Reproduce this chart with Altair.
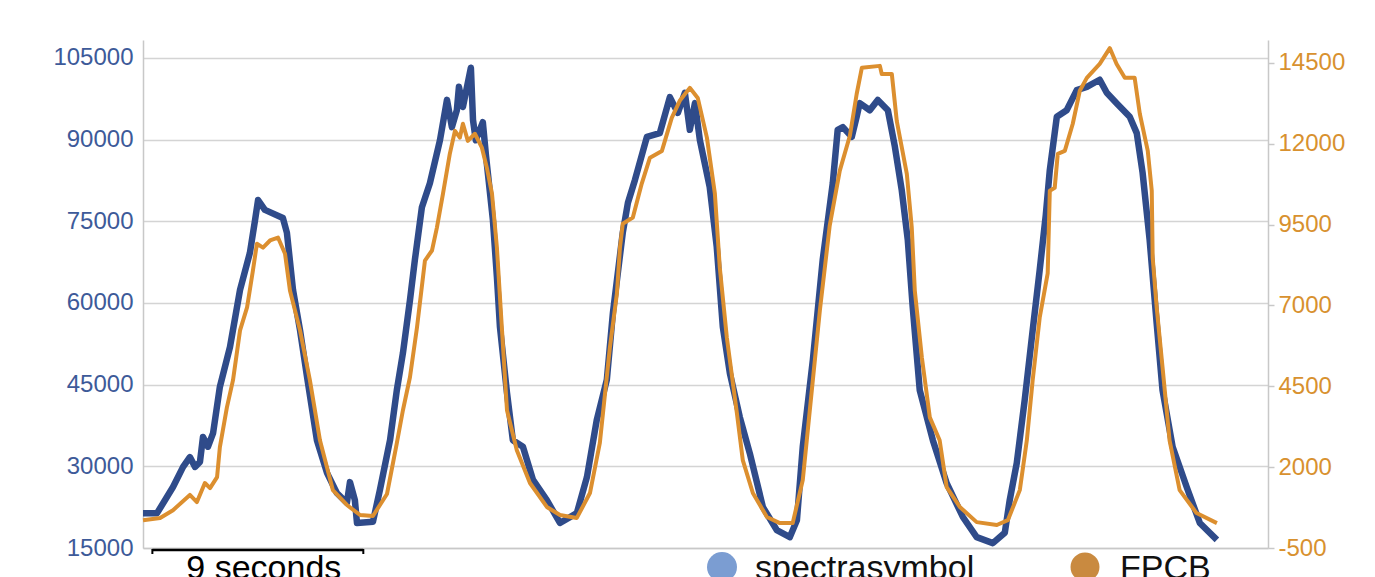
import altair as alt
import pandas as pd

# ---- data ----
series_names = ["spectrasymbol", "FPCB"]

spectra_t = [0.00, 0.60, 1.28, 1.71, 2.00, 2.22, 2.43, 2.56, 2.77, 2.99, 3.28, 3.71, 4.14, 4.56, 4.78, 4.91,
             5.20, 5.97, 6.14, 6.40, 6.70, 7.00, 7.42, 7.85, 8.27, 8.70, 8.83, 9.04, 9.13, 9.81, 10.11, 10.54,
             10.83, 11.09, 11.39, 11.60, 11.90, 12.24, 12.67, 12.97, 13.18, 13.39, 13.48, 13.65, 13.99, 14.08,
             14.20, 14.50, 14.63, 14.93, 15.10, 15.23, 15.53, 15.78, 16.21, 16.64, 17.23, 17.79, 18.51, 18.94,
             19.36, 19.79, 20.05, 20.47, 20.69, 20.99, 21.50, 22.05, 22.48, 22.82, 23.12, 23.33, 23.55, 23.76,
             24.18, 24.48, 24.74, 25.04, 25.46, 25.89, 26.45, 27.04, 27.60, 27.90, 28.15, 28.58, 29.00, 29.43,
             29.64, 29.86, 30.24, 30.45, 30.58, 31.01, 31.35, 31.78, 32.08, 32.37, 32.63, 32.84, 33.14, 33.70,
             34.29, 34.98, 35.57, 36.26, 36.77, 36.98, 37.28, 37.62, 37.96, 38.26, 38.52, 38.69, 38.99, 39.41,
             39.84, 40.27, 40.82, 41.12, 41.54, 42.10, 42.40, 42.65, 42.95, 43.25, 43.50, 43.93, 44.53, 45.09,
             45.82]
spectra_v = [21400, 21400, 26200, 29900, 31700, 29900, 30800, 35400, 33600, 36100, 44600, 51900, 62400, 69200,
             75200, 78900, 77100, 75600, 72900, 62400, 55000, 46400, 34800, 28800, 25100, 23300, 27100, 23800,
             19600, 19800, 25700, 34800, 44000, 50800, 60500, 67900, 77600, 82000, 89900, 97300, 92300, 95400,
             99700, 96000, 103200, 93600, 89900, 93200, 87200, 75200, 64800, 55600, 43500, 34800, 33600, 27500,
             23800, 19600, 21400, 28000, 38500, 45900, 58200, 72900, 78400, 82600, 90500, 91200, 97800, 94900,
             98600, 91800, 96700, 89900, 81300, 70300, 55600, 47100, 39100, 32400, 22500, 18300, 17000, 20100,
             33600, 49500, 67900, 82000, 91800, 92300, 90500, 94200, 96700, 95400, 97300, 95400, 88700, 80800,
             71600, 59300, 44000, 34800, 26900, 20700, 17000, 15900, 17800, 23800, 30600, 42200, 55000, 66100,
             76200, 84400, 94200, 95400, 99100, 99700, 101000, 98600, 96700, 94200, 91200, 83900, 71600, 56300,
             44000, 33600, 26200, 19600, 16500]

fpcb_t = [0.00, 0.73, 1.28, 2.00, 2.30, 2.64, 2.86, 3.16, 3.28, 3.58, 3.84, 4.14, 4.44, 4.69, 4.86, 5.12,
          5.42, 5.76, 6.06, 6.27, 6.70, 7.12, 7.55, 8.10, 8.70, 9.26, 9.81, 10.41, 10.83, 11.09, 11.39, 11.69,
          12.03, 12.33, 12.54, 12.80, 13.09, 13.31, 13.52, 13.65, 13.86, 14.16, 14.46, 14.67, 14.89, 15.10,
          15.31, 15.53, 15.95, 16.51, 17.23, 17.79, 18.51, 19.07, 19.49, 19.92, 20.22, 20.35, 20.47, 20.90,
          21.28, 21.63, 22.14, 22.56, 22.90, 23.33, 23.67, 24.06, 24.40, 24.61, 24.91, 25.34, 25.59, 26.02,
          26.62, 27.17, 27.72, 28.15, 28.45, 28.88, 29.30, 29.73, 30.16, 30.45, 30.67, 31.44, 31.52, 31.95,
          32.16, 32.59, 32.80, 32.93, 33.23, 33.57, 33.99, 34.29, 34.85, 35.57, 36.43, 36.90, 37.41, 37.71,
          37.96, 38.26, 38.60, 38.69, 38.90, 39.03, 39.33, 39.67, 39.97, 40.27, 40.82, 41.25, 41.54, 41.89,
          42.31, 42.53, 42.87, 43.04, 43.08, 43.25, 43.50, 43.80, 44.23, 44.95, 45.82]
fpcb_v = [360, 430, 670, 1140, 920, 1510, 1350, 1690, 2620, 3850, 4690, 6230, 6940, 8080, 8910, 8790, 9010,
          9100, 8600, 7460, 6230, 4690, 2830, 1290, 830, 520, 490, 1170, 2740, 3760, 4780, 6320, 8390, 8700,
          9410, 10460, 11690, 12400, 12190, 12620, 12090, 12310, 11880, 11260, 10460, 8790, 6320, 3760, 2520,
          1510, 770, 520, 430, 1200, 2740, 5700, 7370, 8790, 9530, 9720, 10770, 11570, 11780, 12800, 13330,
          13730, 13420, 12190, 10460, 8170, 6010, 3670, 2220, 1200, 460, 270, 270, 1600, 3760, 6850, 9470,
          11170, 12250, 13540, 14350, 14410, 14160, 14160, 12710, 11070, 9410, 7460, 5400, 3540, 2830, 1380,
          770, 300, 210, 360, 1290, 2830, 4690, 6630, 7990, 10550, 10640, 11690, 11780, 12620, 13640, 14040,
          14470, 14960, 14470, 14040, 14040, 12930, 11780, 10550, 8480, 6940, 5090, 2830, 1290, 580, 270]

left_ticks = [15000, 30000, 45000, 60000, 75000, 90000, 105000]
right_ticks = [-500, 2000, 4500, 7000, 9500, 12000, 14500]
scale_bar = [0.4, 9.4]
scale_label = "9 seconds"

# ---- styling ----
W, H = 1125, 508
BLUE_LINE = "#2f4b8a"
ORANGE_LINE = "#dc8f2f"
BLUE_LEG = "#7b9dd2"
ORANGE_LEG = "#c98a40"
FONT = "Liberation Sans"

x_scale = alt.Scale(domain=[0, 48], nice=False, zero=False)
x_axis = alt.Axis(labels=False, ticks=False, grid=False, title=None,
                  domainColor="#c8c8c8", domainWidth=1.5)

df_s = pd.DataFrame({"t": spectra_t, "v": spectra_v})
df_f = pd.DataFrame({"t": fpcb_t, "v": fpcb_v})

blue = alt.Chart(df_s).mark_line(color=BLUE_LINE, strokeWidth=6.5, strokeJoin="round").encode(
    x=alt.X("t:Q", scale=x_scale, axis=x_axis),
    y=alt.Y("v:Q", scale=alt.Scale(domain=[15000, 108300], nice=False, zero=False),
            axis=alt.Axis(values=left_ticks, labelExpr="'' + datum.value", title=None, orient="left",
                          ticks=False, labelColor="#3d5a99", labelFontSize=24, labelPadding=10,
                          labelFont=FONT, grid=True, gridColor="#d4d4d4", gridWidth=1.5,
                          domainColor="#c8c8c8", domainWidth=1.5)),
)

orange = alt.Chart(df_f).mark_line(color=ORANGE_LINE, strokeWidth=4, strokeJoin="round").encode(
    x=alt.X("t:Q", scale=x_scale, axis=x_axis),
    y=alt.Y("v:Q", scale=alt.Scale(domain=[-500, 15210], nice=False, zero=False),
            axis=alt.Axis(values=right_ticks, labelExpr="'' + datum.value", title=None, orient="right",
                          grid=False, tickColor="#c8c8c8", tickSize=6, tickWidth=1.5,
                          labelColor="#d8912f", labelFontSize=24, labelPadding=4, labelFont=FONT,
                          domainColor="#c8c8c8", domainWidth=1.5)),
)

df_bar = pd.DataFrame({"t0": [scale_bar[0]], "t1": [scale_bar[1]],
                       "mid": [(scale_bar[0] + scale_bar[1]) / 2], "label": [scale_label]})
df_ends = pd.DataFrame({"t": scale_bar})

bar = alt.Chart(df_bar).mark_rule(color="black", strokeWidth=2.5).encode(
    x=alt.X("t0:Q", scale=x_scale, axis=x_axis), x2="t1:Q", y=alt.value(510))
bar_ends = alt.Chart(df_ends).mark_rule(color="black", strokeWidth=2).encode(
    x=alt.X("t:Q", scale=x_scale, axis=x_axis), y=alt.value(509), y2=alt.value(514))
bar_text = alt.Chart(df_bar).mark_text(fontSize=34, font=FONT, color="black", align="center",
                                       baseline="alphabetic", dx=6).encode(
    x=alt.X("mid:Q", scale=x_scale, axis=x_axis), y=alt.value(539), text="label:N")

df_leg1 = pd.DataFrame({"name": [series_names[0]]})
df_leg2 = pd.DataFrame({"name": [series_names[1]]})
leg1_dot = alt.Chart(df_leg1).mark_point(shape="circle", filled=True, size=900, opacity=1,
                                         color=BLUE_LEG).encode(x=alt.value(579), y=alt.value(527))
leg1_txt = alt.Chart(df_leg1).mark_text(fontSize=34, font=FONT, color="#111111", align="left",
                                        baseline="alphabetic").encode(
    x=alt.value(612), y=alt.value(539), text="name:N")
leg2_dot = alt.Chart(df_leg2).mark_point(shape="circle", filled=True, size=840, opacity=1,
                                         color=ORANGE_LEG).encode(x=alt.value(942), y=alt.value(527))
leg2_txt = alt.Chart(df_leg2).mark_text(fontSize=34, font=FONT, color="#111111", align="left",
                                        baseline="alphabetic").encode(
    x=alt.value(977), y=alt.value(539), text="name:N")

chart = alt.layer(
    blue, orange, bar, bar_ends, bar_text, leg1_dot, leg1_txt, leg2_dot, leg2_txt
).resolve_scale(y="independent").properties(
    width=W, height=H,
    autosize=alt.AutoSizeParams(type="none"),
    padding={"left": 135, "top": 32, "right": 90, "bottom": 40},
).configure(font=FONT).configure_view(stroke="transparent")

chart.save("out.html", embed_options={"renderer": "svg", "actions": False})
